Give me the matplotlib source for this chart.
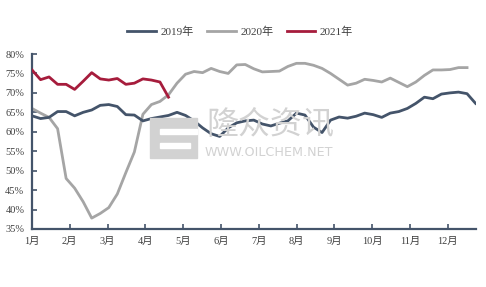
import matplotlib.pyplot as plt
from matplotlib.patches import Rectangle

# 周度开工率 (%), 按周排列
rate_2019 = [64.1, 63.4, 63.7, 65.2, 65.2, 64.1, 65.0, 65.6, 66.8, 67.0,
             66.5, 64.4, 64.3, 62.8, 63.4, 63.8, 64.2, 65.0, 64.2, 62.8,
             61.0, 59.5, 58.8, 61.0, 62.3, 62.8, 63.0, 62.0, 61.5, 62.2,
             62.8, 64.8, 64.3, 61.2, 59.8, 63.0, 63.8, 63.5, 64.0, 64.8,
             64.4, 63.7, 64.8, 65.2, 66.0, 67.3, 68.9, 68.5, 69.7, 70.0,
             70.2, 69.8, 67.3]
rate_2020 = [66.0, 64.8, 63.7, 60.8, 48.0, 45.5, 42.0, 37.8, 39.0, 40.5,
             44.0, 49.5, 54.8, 64.5, 67.0, 67.8, 69.5, 72.5, 74.8, 75.5,
             75.2, 76.3, 75.5, 75.0, 77.2, 77.3, 76.2, 75.4, 75.5, 75.6,
             76.8, 77.6, 77.6, 77.1, 76.3, 75.0, 73.5, 72.0, 72.5, 73.5,
             73.2, 72.8, 73.8, 72.7, 71.6, 72.8, 74.5, 75.9, 75.9, 76.0,
             76.5, 76.5]
rate_2021 = [75.9, 73.4, 74.1, 72.2, 72.2, 70.9, 73.0, 75.2, 73.6, 73.3,
             73.7, 72.2, 72.5, 73.6, 73.3, 72.8, 68.9]

month_labels = ['1月', '2月', '3月', '4月', '5月', '6月',
                '7月', '8月', '9月', '10月', '11月', '12月']
y_ticks = [35, 40, 45, 50, 55, 60, 65, 70, 75, 80]

FONT = ['Liberation Serif', 'Noto Sans CJK SC']
plt.rcParams['font.family'] = FONT

fig = plt.figure(figsize=(4.86, 2.87), dpi=100)
ax = fig.add_axes([32 / 486, 1 - 229 / 287, 444 / 486, 175 / 287])

# 水印
wm = '#d2d2d2'
fig.patches.append(Rectangle((150 / 486, 1 - 158 / 287), 47 / 486, 40 / 287,
                             transform=fig.transFigure, color=wm, zorder=0))
fig.patches.append(Rectangle((160 / 486, 1 - 134 / 287), 37 / 486, 5 / 287,
                             transform=fig.transFigure, color='white', zorder=0))
fig.patches.append(Rectangle((160 / 486, 1 - 148 / 287), 30 / 486, 5 / 287,
                             transform=fig.transFigure, color='white', zorder=0))
fig.text(270 / 486, 1 - 125 / 287, '隆众资讯', fontsize=23, color=wm,
         family=['Noto Sans CJK SC'], ha='center', va='center', zorder=0)
fig.text(269 / 486, 1 - 152 / 287, 'WWW.OILCHEM.NET', fontsize=9.2, color=wm,
         family=['DejaVu Sans'], ha='center', va='center', zorder=0)
ax.patch.set_alpha(0)

c19, c20, c21 = '#44546a', '#a5a5a5', '#a61c3c'
ax.plot(range(len(rate_2019)), rate_2019, color=c19, lw=2.0, label='2019年',
        solid_joinstyle='round', zorder=3)
ax.plot(range(len(rate_2020)), rate_2020, color=c20, lw=2.0, label='2020年',
        solid_joinstyle='round', zorder=2)
ax.plot(range(len(rate_2021)), rate_2021, color=c21, lw=2.0, label='2021年',
        solid_joinstyle='round', zorder=4)

ax.set_xlim(0, 52.05)
ax.set_ylim(35, 80)
ax.set_yticks(y_ticks)
ax.set_yticklabels([f'{v}%' for v in y_ticks])
ax.set_xticks([i * 4.43 for i in range(12)])
ax.set_xticklabels(month_labels)

for s in ['top', 'right']:
    ax.spines[s].set_visible(False)
for s in ['left', 'bottom']:
    ax.spines[s].set_color(c19)
    ax.spines[s].set_linewidth(1.6)
ax.tick_params(direction='in', length=3.5, width=1.2, color=c19,
               labelsize=7.5, labelcolor='#404040')
ax.tick_params(axis='y', pad=5.5)
ax.tick_params(axis='x', pad=6)

fig.legend(loc='center', bbox_to_anchor=(240 / 486, 1 - 32 / 287), ncol=3,
           frameon=False, fontsize=8, handlelength=2.6, handletextpad=0.4,
           columnspacing=1.2, labelcolor='#404040')

fig.savefig('out.png', dpi=100)
plt.close(fig)
